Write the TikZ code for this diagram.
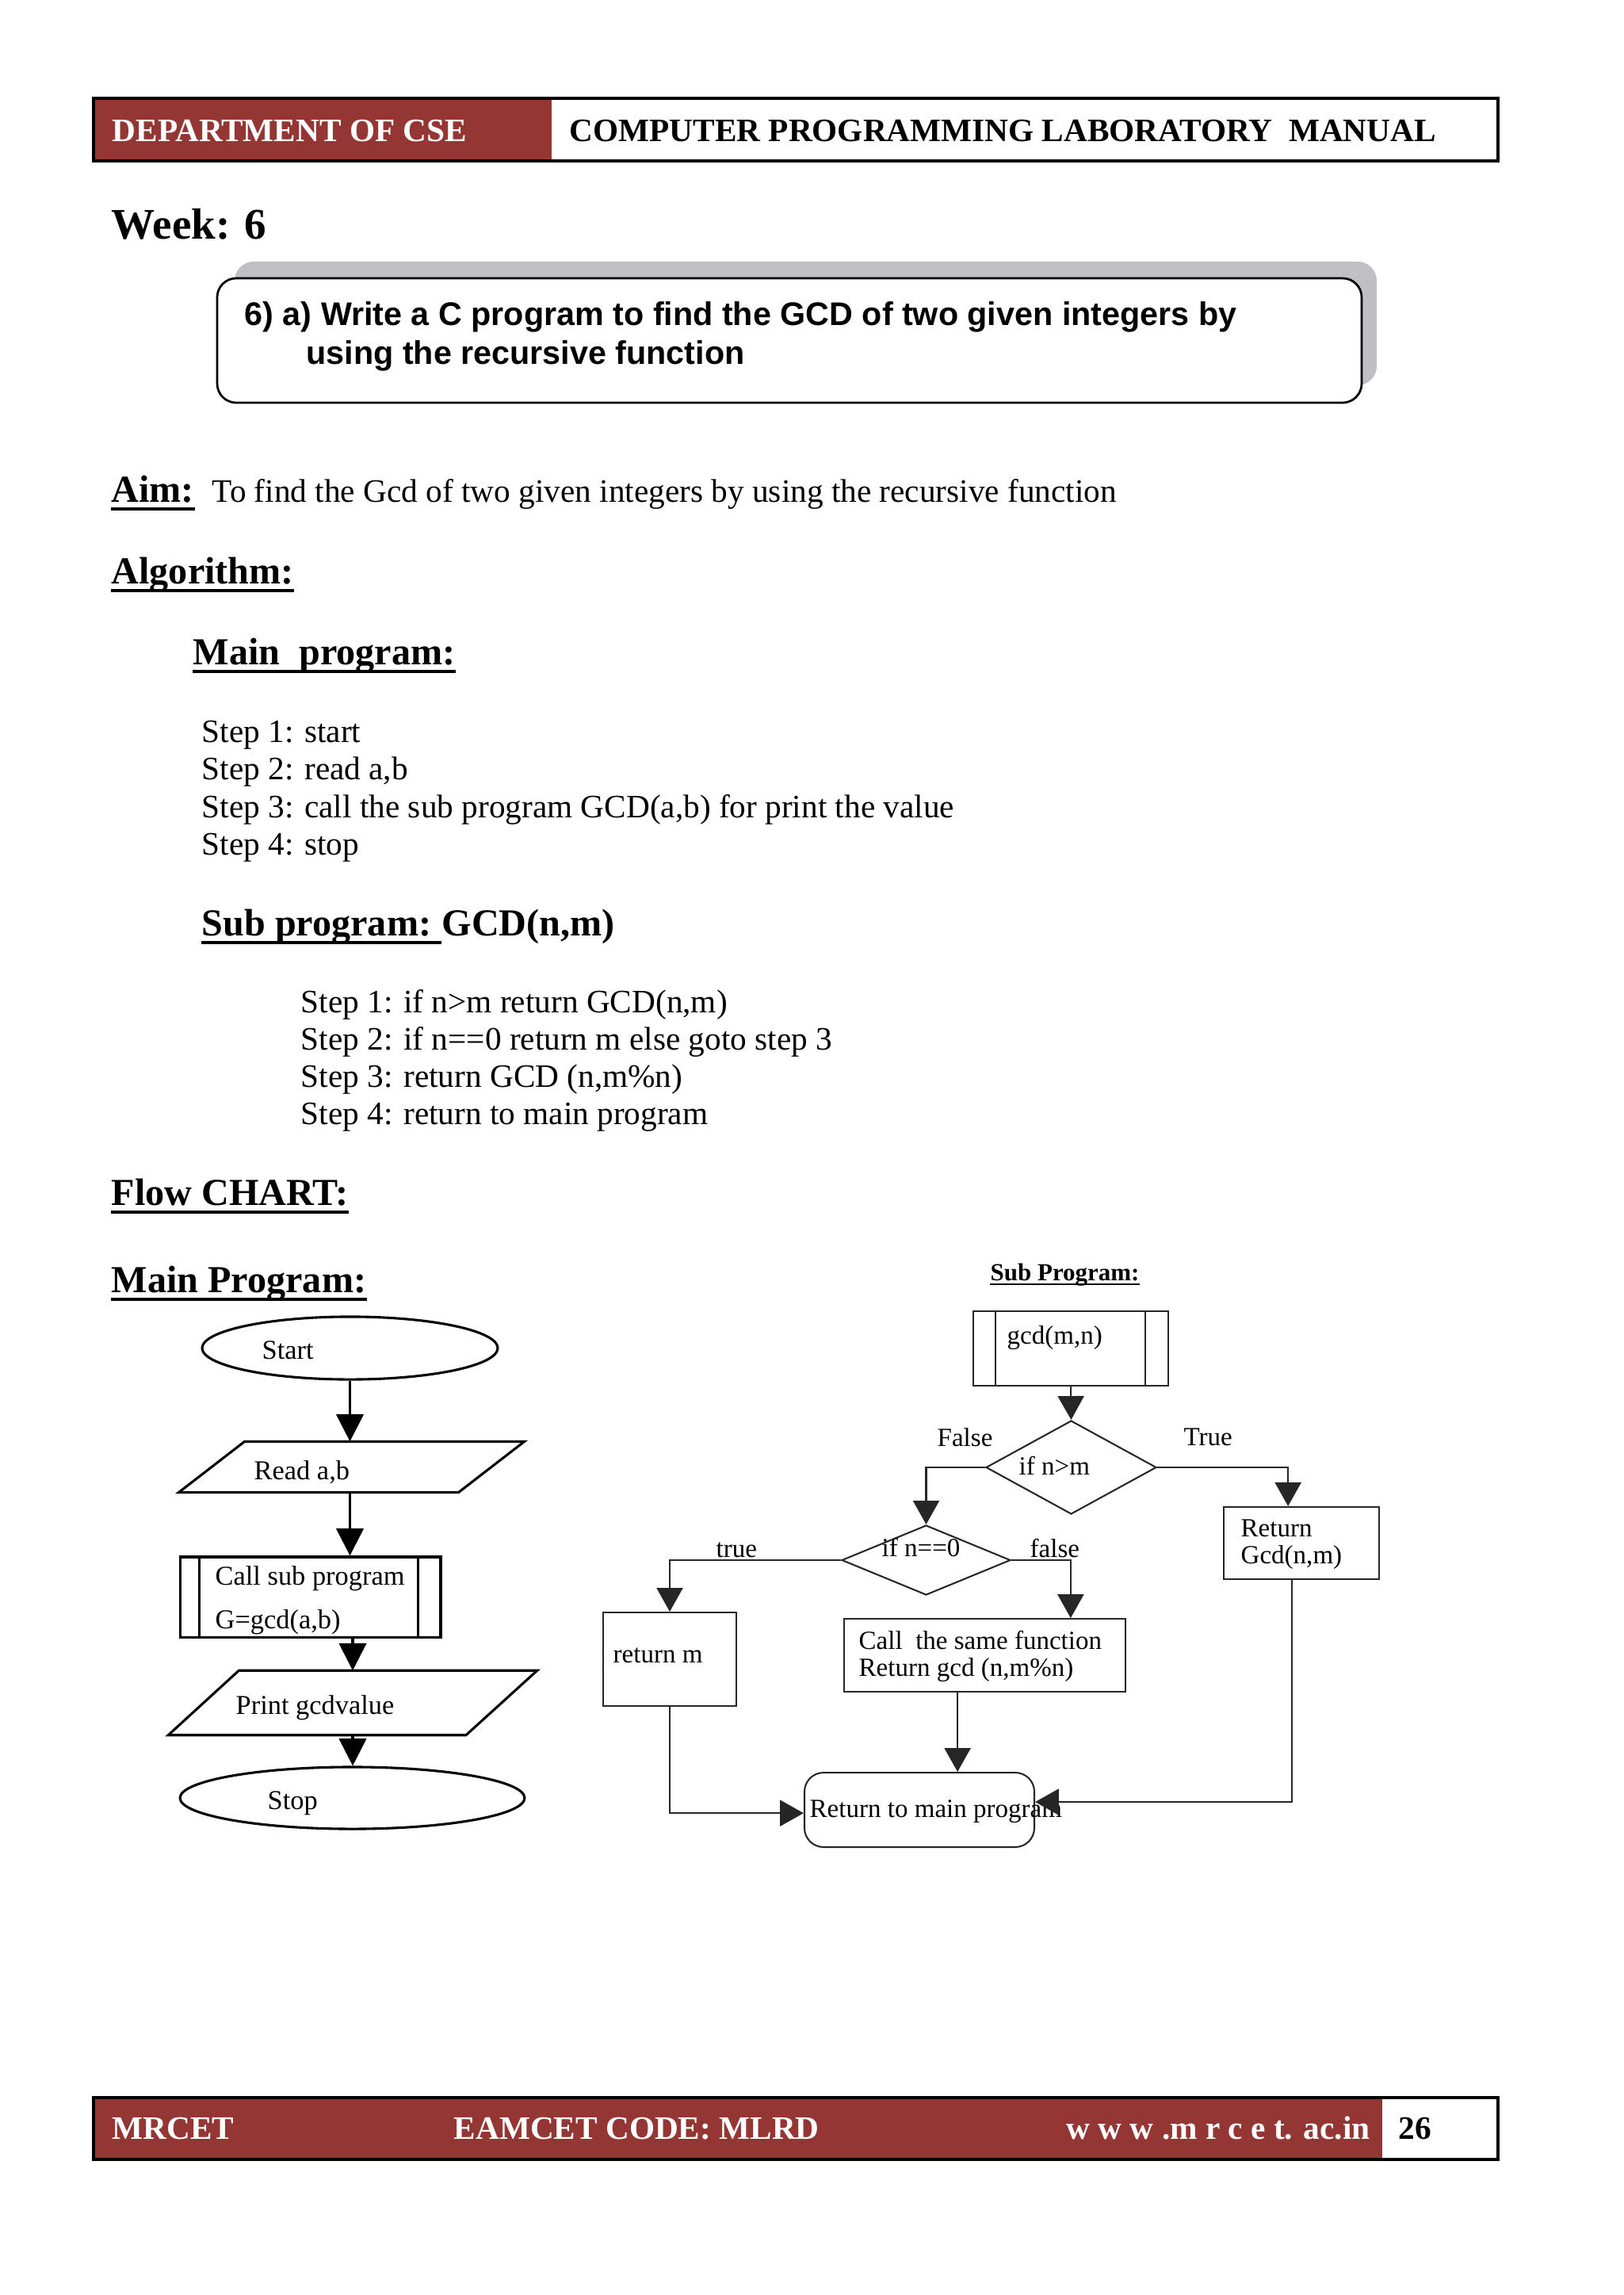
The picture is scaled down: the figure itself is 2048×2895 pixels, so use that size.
\documentclass[tikz,border=0pt]{standalone}
\usepackage{fontspec}
\setmainfont{Liberation Serif}
\newfontfamily\arialf{Liberation Sans}
\usetikzlibrary{arrows.meta,shapes.geometric,calc}
\definecolor{hdrred}{RGB}{148,54,52}
\definecolor{shadowgray}{RGB}{192,191,196}
\tikzset{
  txt/.style={anchor=base west, inner sep=0pt, font=\fontsize{12}{14}\selectfont},
  whtxt/.style={txt, text=white, font=\fontsize{12}{14}\selectfont\bfseries},
  hd/.style={anchor=base west, inner sep=0pt, font=\fontsize{14}{16}\selectfont\bfseries},
  ttl/.style={anchor=base west, inner sep=0pt, font=\arialf\fontsize{12}{14}\selectfont\bfseries},
  uline/.style={line width=1.1pt},
  mline/.style={line width=0.9pt, draw=black},
  marr/.style={mline, -{Triangle[length=10pt,width=10pt]}},
  mtxt/.style={anchor=base west, inner sep=0pt, font=\fontsize{10}{12}\selectfont},
  mbox/.style={draw=none, inner sep=0pt},
  sline/.style={line width=0.6pt, draw=black!85},
  sarr/.style={sline, -{Triangle[length=8.7pt,width=9.6pt]}},
  stxt/.style={anchor=base west, inner sep=0pt, font=\fontsize{9.6}{11.5}\selectfont},
  sbox/.style={draw=black!85, line width=0.6pt, inner sep=0pt},
}
\begin{document}
\begin{tikzpicture}[x=0.29066pt,y=-0.29066pt]
\fill[white] (0,0) rectangle (2048,2895);
\useasboundingbox (0,0) rectangle (2048,2895);

% ---------- header ----------
\fill[hdrred] (118,124) rectangle (696,203);
\draw[line width=1.1pt] (118,124) rectangle (1890,203);
\node[whtxt] (dept) at (141,178) {DEPARTMENT OF CSE};
\node[txt, font=\fontsize{12}{14}\selectfont\bfseries] (manual) at (718,178) {COMPUTER PROGRAMMING LABORATORY~~MANUAL};

% ---------- week ----------
\node[anchor=base west, inner sep=0pt, font=\fontsize{16}{18}\selectfont\bfseries] (week) at (140,301) {Week: 6};

% ---------- title box ----------
\fill[shadowgray, rounded corners=7pt] (296,330) rectangle (1737,486);
\filldraw[fill=white, draw=black, line width=0.8pt, rounded corners=7pt] (274,351) rectangle (1718,508);
\node[ttl] (t1) at (308,410) {6) a) Write a C program to find the GCD of two given integers by};
\node[ttl] (t2) at (386,459) {using the recursive function};

% ---------- aim / algorithm ----------
\node[hd] (aim) at (140,633) {Aim:};
\draw[uline] ([yshift=-2.6pt]aim.base west) -- ([yshift=-2.6pt]aim.base east);
\node[txt] (aimtxt) at (267,633) {To find the Gcd of two given integers by using the recursive function};

\node[hd] (algo) at (140,736) {Algorithm:};
\draw[uline] ([yshift=-2.6pt]algo.base west) -- ([yshift=-2.6pt]algo.base east);

\node[hd] (mainp) at (243,838) {Main~~program:};
\draw[uline] ([yshift=-2.6pt]mainp.base west) -- ([yshift=-2.6pt]mainp.base east);

\node[txt] (s1) at (254,936) {Step 1: start};
\node[txt] (s2) at (254,983) {Step 2: read a,b};
\node[txt] (s3) at (254,1031) {Step 3: call the sub program GCD(a,b) for print the value};
\node[txt] (s4) at (254,1078) {Step 4: stop};

\node[hd] (subhd) at (254,1180) {Sub program:\ \mbox{}};
\draw[uline] ([yshift=-2.6pt]subhd.base west) -- ([yshift=-2.6pt]subhd.base east);
\node[hd] (gcdhd) at (subhd.base east) {GCD(n,m)};

\node[txt] (ss1) at (379,1277) {Step 1: if n>m return GCD(n,m)};
\node[txt] (ss2) at (379,1324) {Step 2: if n==0 return m else goto step 3};
\node[txt] (ss3) at (379,1371) {Step 3: return GCD (n,m\%n)};
\node[txt] (ss4) at (379,1418) {Step 4: return to main program};

\node[hd] (flow) at (140,1520) {Flow CHART:};
\draw[uline] ([yshift=-2.6pt]flow.base west) -- ([yshift=-2.6pt]flow.base east);
\node[hd] (mprog) at (140,1630) {Main Program:};
\draw[uline] ([yshift=-2.6pt]mprog.base west) -- ([yshift=-2.6pt]mprog.base east);

% ---------- main program flowchart ----------
\node[ellipse, draw, line width=0.9pt, inner sep=0pt, minimum width=108.4pt, minimum height=23pt] (start) at (441.5,1700.5) {};
\node[mtxt] (tstart) at (330,1714) {Start};

\node[mbox, minimum width=126.4pt, minimum height=18.3pt] (read) at (443.5,1850.5) {};
\draw[mline] ([xshift=24.2pt]read.north west) -- (read.north east) -- ([xshift=-24.2pt]read.south east) -- (read.south west) -- cycle;
\node[mtxt] (tread) at (320,1866) {Read a,b};

\node[draw, line width=0.9pt, inner sep=0pt, minimum width=95.6pt, minimum height=29.4pt] (call) at (391.5,2014.5) {};
\draw[mline] ([xshift=7.5pt]call.north west) -- ([xshift=7.5pt]call.south west);
\draw[mline] ([xshift=-8.7pt]call.north east) -- ([xshift=-8.7pt]call.south east);
\node[mtxt] (tcall1) at (271,1999) {Call sub program};
\node[mtxt] (tcall2) at (271,2054) {G=gcd(a,b)};

\node[mbox, minimum width=134.9pt, minimum height=23.3pt] (print) at (445,2148) {};
\draw[mline] ([xshift=25.9pt]print.north west) -- (print.north east) -- ([xshift=-26.1pt]print.south east) -- (print.south west) -- cycle;
\node[mtxt] (tprint) at (297,2162) {Print gcdvalue};

\node[ellipse, draw, line width=0.9pt, inner sep=0pt, minimum width=126.4pt, minimum height=22.7pt] (stop) at (444.5,2268) {};
\node[mtxt] (tstop) at (337,2282) {Stop};

\draw[marr] (start.south) -- (start.south |- read.north);
\draw[marr] (start.south |- read.south) -- (start.south |- call.north);
\draw[marr] (print.north |- call.south) -- (print.north);
\draw[marr] (print.south) -- (print.south |- stop.north);

% ---------- sub program flowchart ----------
\node[anchor=base west, inner sep=0pt, font=\fontsize{9}{11}\selectfont\bfseries] (subt) at (1249,1615) {Sub Program:};
\draw[line width=0.6pt] ([yshift=-1.5pt]subt.base west) -- ([yshift=-1.5pt]subt.base east);

\node[sbox, minimum width=71.5pt, minimum height=27.3pt] (gcdbox) at (1351,1701) {};
\draw[sline] ([xshift=8.4pt]gcdbox.north west) -- ([xshift=8.4pt]gcdbox.south west);
\draw[sline] ([xshift=-8.7pt]gcdbox.north east) -- ([xshift=-8.7pt]gcdbox.south east);
\node[stxt] (tgcd) at (1270,1695) {gcd(m,n)};

\node[diamond, sbox, minimum width=62.5pt, minimum height=34.3pt] (d1) at (1351.5,1851) {};
\node[stxt] (td1) at (1285,1860) {if n>m};
\node[stxt] (tfalse1) at (1182,1824) {False};
\node[stxt] (ttrue1) at (1493,1823) {True};

\node[diamond, sbox, minimum width=61.9pt, minimum height=25.6pt] (d2) at (1168.5,1968) {};
\node[stxt] (td2) at (1112,1963) {if n==0};
\node[stxt] (ttrue2) at (903,1964) {true};
\node[stxt] (tfalse2) at (1299,1964) {false};

\node[sbox, minimum width=57pt, minimum height=26.5pt] (retgcd) at (1642,1946.5) {};
\node[stxt] (tret1) at (1565,1938) {Return};
\node[stxt] (tret2) at (1565,1972) {Gcd(n,m)};

\node[sbox, minimum width=48.8pt, minimum height=34.3pt] (retm) at (845,2093) {};
\node[stxt] (tretm) at (773,2097) {return m};

\node[sbox, minimum width=103.2pt, minimum height=26.7pt] (call2) at (1242.5,2088) {};
\node[stxt] (tc21) at (1083,2080) {Call~~the same function};
\node[stxt] (tc22) at (1083,2114) {Return gcd (n,m\%n)};

\node[sbox, rounded corners=7pt, minimum width=84.3pt, minimum height=27.3pt] (retmain) at (1160,2283) {};
\node[stxt] (tretmain) at (1021,2292) {Return to main program};

\draw[sarr] (gcdbox.south) -- (d1.north);
\draw[sarr] (d1.west) -| (d2.north);
\draw[sarr] (d1.east) -| ([xshift=-4.9pt]retgcd.north);
\draw[sarr] (d2.west) -| (retm.north);
\draw[sarr] (d2.east) -| ([xshift=31.5pt]call2.north);
\draw[sarr] ([xshift=-10pt]call2.south) -- ([xshift=-10pt]call2.south |- retmain.north);
\draw[sarr] (retm.south) |- ([yshift=-1.2pt]retmain.west);
\draw[sarr] ([xshift=-3.5pt]retgcd.south) |- ([yshift=2.9pt]retmain.east);

% ---------- footer ----------
\fill[hdrred] (118,2646) rectangle (1744,2724);
\draw[line width=1.1pt] (118,2646) rectangle (1890,2724);
\node[whtxt] (f1) at (141,2698) {MRCET};
\node[whtxt] (f2) at (572,2698) {EAMCET CODE: MLRD};
\node[whtxt] (f3) at (1345,2698) {w w w .m r c e t. ac.in};
\node[txt, font=\fontsize{12}{14}\selectfont\bfseries] (f4) at (1764,2698) {26};
\end{tikzpicture}
\end{document}
